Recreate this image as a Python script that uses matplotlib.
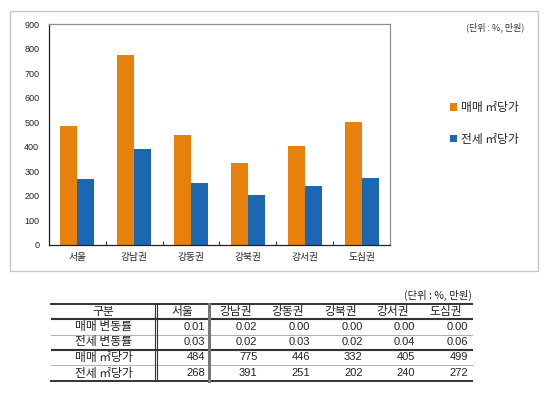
import matplotlib
matplotlib.use("Agg")
import matplotlib.pyplot as plt
import numpy as np
from matplotlib.patches import Rectangle

plt.rcParams['font.family'] = ['Noto Sans CJK KR', 'DejaVu Sans']

regions = ['서울', '강남권', '강동권', '강북권', '강서권', '도심권']
sale_change = [0.01, 0.02, 0.00, 0.00, 0.00, 0.00]
jeonse_change = [0.03, 0.02, 0.03, 0.02, 0.04, 0.06]
sale_price = [484, 775, 446, 332, 405, 499]
jeonse_price = [268, 391, 251, 202, 240, 272]
series_labels = ['매매 ㎡당가', '전세 ㎡당가']
row_labels = ['매매 변동률', '전세 변동률', '매매 ㎡당가', '전세 ㎡당가']
header_first = '구분'
unit_text = '(단위 : %, 만원)'
yticks = [0, 100, 200, 300, 400, 500, 600, 700, 800, 900]

orange = '#E8800C'
blue = '#1C67B4'

W, H = 550, 395
fig = plt.figure(figsize=(W / 100, H / 100), dpi=100)

bg = fig.add_axes([0, 0, 1, 1])
bg.set_xlim(0, W)
bg.set_ylim(H, 0)
bg.axis('off')
bg.add_patch(Rectangle((10, 11), 528, 260, fill=False, ec='#c8c8c8', lw=1.0))

# chart axes
ax = fig.add_axes([49 / W, 1 - 245 / H, (390 - 49) / W, (245 - 24) / H])
x = np.arange(len(regions))
bw = 0.3
b1 = ax.bar(x - bw / 2, sale_price, bw, color=orange, label=series_labels[0])
b2 = ax.bar(x + bw / 2, jeonse_price, bw, color=blue, label=series_labels[1])
ax.set_xlim(-0.5, len(regions) - 0.5)
ax.set_ylim(0, 900)
ax.set_yticks(yticks)
ax.set_yticklabels([str(v) for v in yticks], family=['Liberation Sans'], fontsize=6.5, color='#222222')
ax.set_xticks(x)
ax.set_xticklabels(regions, fontsize=7, color='#222222')
ax.tick_params(axis='y', length=0, pad=7)
ax.tick_params(axis='x', length=0, pad=5)
ax.set_xticks(np.arange(0.5, len(regions) - 1, 1.0), minor=True)
ax.tick_params(axis='x', which='minor', direction='in', length=3, width=0.8, color='#333333')
for s in ['left', 'bottom']:
    ax.spines[s].set_color('#222222')
    ax.spines[s].set_linewidth(0.9)
for s in ['top', 'right']:
    ax.spines[s].set_color('#909090')
    ax.spines[s].set_linewidth(0.9)

fig.text(524 / W, 1 - 27 / H, unit_text, ha='right', va='center', fontsize=6.5, color='#333333')

leg = fig.legend(handles=[b1, b2], labels=series_labels, loc='upper left',
                 bbox_to_anchor=(450 / W, 1 - 101 / H), frameon=False, fontsize=8.5,
                 handlelength=0.6, handleheight=0.6, handletextpad=0.3,
                 labelspacing=1.6, borderpad=0, borderaxespad=0)
for t in leg.get_texts():
    t.set_color('#222222')

# table
tx0, tx1 = 51, 472
col_edges = [51, 156, 209] + [209 + (472 - 209) * i / 5 for i in range(1, 6)]
row_edges = [304, 318.5, 334.5, 349.5, 365, 381]

bg.text(tx1, 295, unit_text, ha='right', va='center', fontsize=7.5, color='#222222')

dark = '#333333'
light = '#b0b0b0'
bg.plot([tx0, tx1], [row_edges[0]] * 2, color=dark, lw=1.4)
bg.plot([tx0, tx1], [row_edges[-1]] * 2, color=dark, lw=1.4)
bg.plot([tx0, tx1], [row_edges[1] - 0.8] * 2, color=dark, lw=0.8)
bg.plot([tx0, tx1], [row_edges[1] + 0.8] * 2, color=dark, lw=0.8)
bg.plot([tx0, tx1], [row_edges[3] - 0.8] * 2, color=dark, lw=0.8)
bg.plot([tx0, tx1], [row_edges[3] + 0.8] * 2, color=dark, lw=0.8)
bg.plot([tx0, tx1], [row_edges[2]] * 2, color=light, lw=0.7)
bg.plot([tx0, tx1], [row_edges[4]] * 2, color=light, lw=0.7)
bg.plot([col_edges[1] - 0.9] * 2, [row_edges[0], row_edges[-1]], color=dark, lw=0.8)
bg.plot([col_edges[1] + 0.9] * 2, [row_edges[0], row_edges[-1]], color=dark, lw=0.8)
bg.plot([col_edges[2]] * 2, [row_edges[0], row_edges[-1]], color='#777777', lw=2.2)

tc = '#222222'
fs = 8.5
def ymid(i):
    return (row_edges[i] + row_edges[i + 1]) / 2

bg.text((col_edges[0] + col_edges[1]) / 2, ymid(0), header_first, ha='center', va='center', fontsize=fs, color=tc)
for j, r in enumerate(regions):
    bg.text((col_edges[j + 1] + col_edges[j + 2]) / 2, ymid(0), r, ha='center', va='center', fontsize=fs, color=tc)

rows = [
    [f'{v:.2f}' for v in sale_change],
    [f'{v:.2f}' for v in jeonse_change],
    [str(v) for v in sale_price],
    [str(v) for v in jeonse_price],
]
for i, (lab, vals) in enumerate(zip(row_labels, rows)):
    bg.text((col_edges[0] + col_edges[1]) / 2, ymid(i + 1), lab, ha='center', va='center', fontsize=fs, color=tc)
    for j, v in enumerate(vals):
        bg.text(col_edges[j + 2] - 4, ymid(i + 1), v, ha='right', va='center', fontsize=8,
                family=['Liberation Sans'], color=tc)

fig.savefig('out.png', dpi=100)
